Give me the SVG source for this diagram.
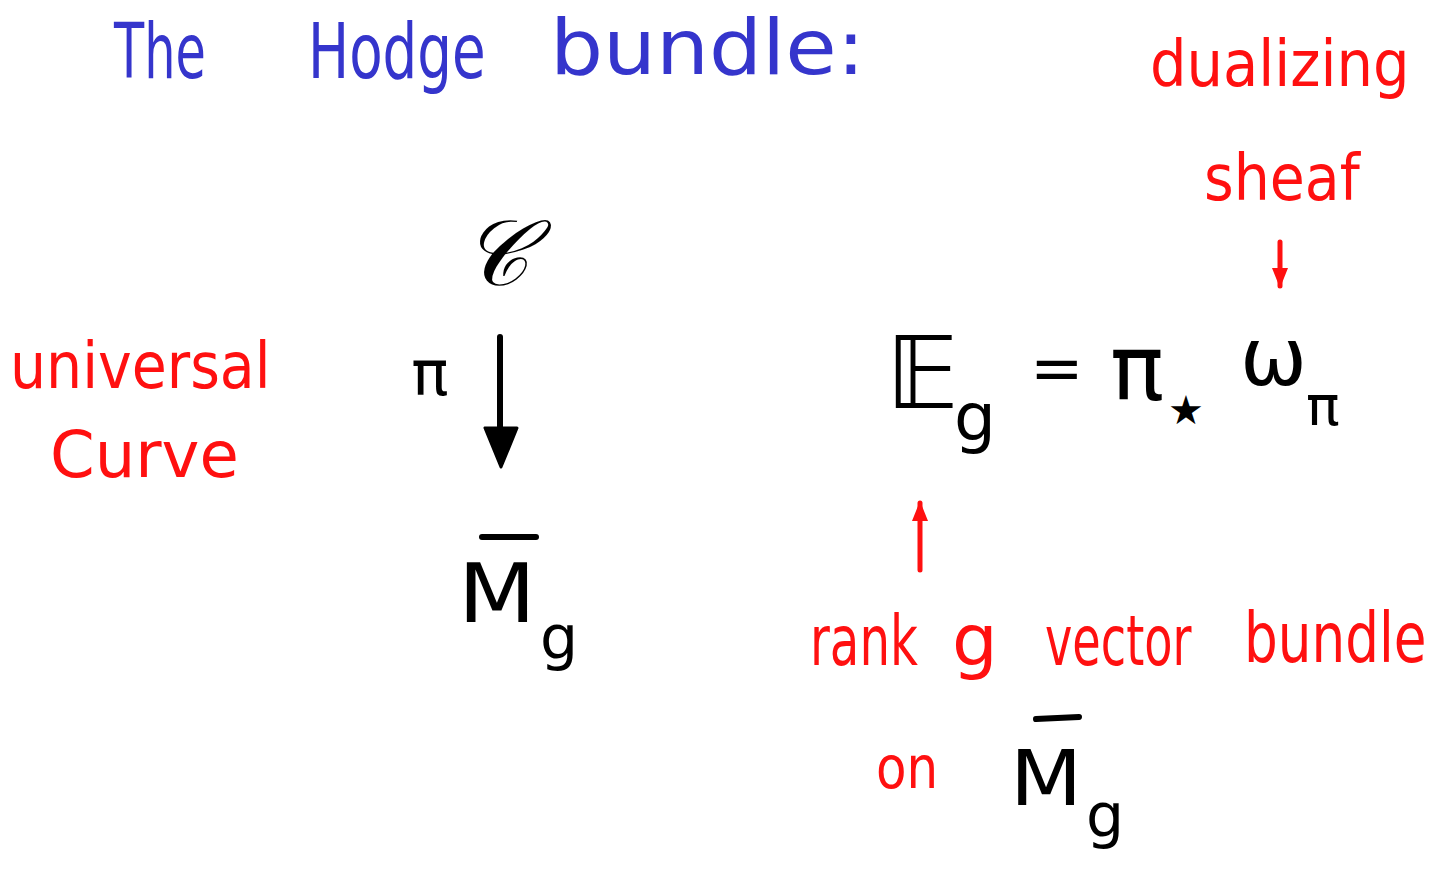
<svg xmlns="http://www.w3.org/2000/svg" width="1451" height="874" viewBox="0 0 1451 874">
<defs>
<style>
.blue{fill:#3535cc;font-family:"DejaVu Sans",sans-serif;}
.red{fill:#ff1010;font-family:"DejaVu Sans",sans-serif;}
.blk{fill:#000;font-family:"DejaVu Sans",sans-serif;}
.ser{fill:#000;font-family:"DejaVu Serif","Liberation Serif",serif;}
.ln{stroke:#000;stroke-width:6;stroke-linecap:round;fill:none;}
.rln{stroke:#ff1010;stroke-width:5;stroke-linecap:round;fill:none;}
</style>
<marker id="rh" viewBox="0 0 10 10" refX="9" refY="5" markerWidth="4" markerHeight="4" orient="auto"><path d="M0,1 L10,5 L0,9 Z" fill="#ff1010"/></marker>
</defs>
<rect width="1451" height="874" fill="#fff"/>

<g id="title">
<text class="blue" font-size="76" transform="translate(114,78) scale(0.65,1)">The</text>
<text class="blue" font-size="76" transform="translate(308,78) scale(0.72,1)">Hodge</text>
<text class="blue" font-size="76" transform="translate(550,74) scale(1.1,1)">bundle:</text>
</g>

<g id="dualizing">
<text class="red" font-size="64" transform="translate(1150,86) scale(0.9,1)">dualizing</text>
<text class="red" font-size="64" transform="translate(1204,200) scale(0.89,1)">sheaf</text>
</g>

<g id="universal">
<text class="red" font-size="64" transform="translate(10,388) scale(0.89,1)">universal</text>
<text class="red" font-size="64" x="50" y="477">Curve</text>
</g>

<g id="C">
<text class="ser" font-size="92" font-style="italic" x="495" y="285" text-anchor="middle">𝒞</text>
</g>

<g id="pi">
<text class="blk" font-size="62" x="430" y="395" text-anchor="middle">π</text>
</g>

<g id="Mg">
<line class="ln" x1="482" y1="537" x2="536" y2="537"/>
<text class="blk" font-size="82" transform="translate(458,622) scale(1.1,1)">M</text>
<text class="blk" font-size="60" x="540" y="658">g</text>
</g>

<g id="Eg">
<text class="blk" font-size="100" x="886" y="408">𝔼</text>
<text class="blk" font-size="66" x="954" y="440">g</text>
<text class="blk" font-size="64" x="1030" y="390">=</text>
<text class="blk" font-size="90" x="1110" y="400">π</text>
<text class="blk" font-size="40" x="1168" y="424">★</text>
<text class="blk" font-size="80" x="1240" y="385">ω</text>
<text class="blk" font-size="56" x="1306" y="425">π</text>
</g>

<g id="rank">
<text class="red" font-size="70" transform="translate(810,665) scale(0.69,1)">rank</text>
<text class="red" font-size="72" x="952" y="665">g</text>
<text class="red" font-size="70" transform="translate(1045,665) scale(0.66,1)">vector</text>
<text class="red" font-size="70" transform="translate(1244,662) scale(0.76,1)">bundle</text>
<text class="red" font-size="58" transform="translate(876,788) scale(0.86,1)">on</text>
</g>

<g id="Mg2">
<line class="ln" x1="1036" y1="719" x2="1079" y2="717"/>
<text class="blk" font-size="76" transform="translate(1010,805) scale(1.1,1)">M</text>
<text class="blk" font-size="60" x="1086" y="836">g</text>
</g>

<g id="connectors">
<line class="ln" x1="500" y1="337" x2="500" y2="440"/>
<path d="M485,428 L517,428 L501,467 Z" fill="#000" stroke="#000" stroke-width="3" stroke-linejoin="round"/>
<line class="rln" x1="1280" y1="242" x2="1280" y2="286" marker-end="url(#rh)"/>
<line class="rln" x1="920" y1="570" x2="920" y2="503" marker-end="url(#rh)"/>
</g>
</svg>
